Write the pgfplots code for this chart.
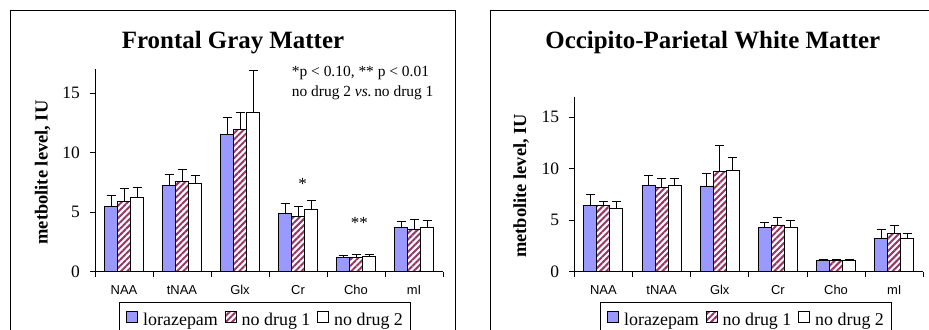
\documentclass[border=0pt]{standalone}
\usepackage{fontspec}
\setmainfont{Liberation Serif}
\setsansfont{Liberation Sans}
\usepackage{pgfplots}
\usepackage{pgfplotstable}
\pgfplotsset{compat=1.18}
\usetikzlibrary{patterns.meta}
\definecolor{loraz}{RGB}{153,153,255}
\definecolor{hatch}{RGB}{153,51,102}

% Frontal Gray Matter
\pgfplotstableread{
x L Le D De N Ne
0 5.52 0.87 5.94 1.04 6.25 0.81
1 7.26 0.93 7.57 1.01 7.46 0.61
2 11.52 1.43 11.94 1.43 13.37 3.56
3 4.91 0.81 4.63 0.84 5.24 0.79
4 1.18 0.17 1.18 0.31 1.29 0.20
5 3.70 0.53 3.59 0.84 3.70 0.62
}\fgm

% Occipito-Parietal White Matter
\pgfplotstableread{
x L Le D De N Ne
0 6.41 1.11 6.41 0.46 6.19 0.68
1 8.42 0.94 8.20 0.84 8.42 0.62
2 8.33 1.19 9.72 2.56 9.82 1.32
3 4.31 0.48 4.54 0.71 4.31 0.65
4 1.07 0.10 1.07 0.10 1.07 0.10
5 3.27 0.81 3.69 0.85 3.27 0.42
}\opw

\pgfplotsset{
  mybars/.style={
    ybar=0pt, bar width=13bp,
    scale only axis,
    xmin=-0.5, xmax=5.5, ymin=0, ymax=17,
    axis lines*=left,
    axis line style={line width=0.8bp, black},
    xtick={0,...,5},
    xticklabels={NAA,tNAA,Glx,Cr,Cho,mI},
    minor xtick={-0.5,0.5,...,5.5},
    ytick={0,5,10,15},
    tick align=outside,
    major tick length=5bp, minor tick length=5bp,
    tick style={black, line width=0.8bp},
    major x tick style={draw=none},
    /pgf/number format/assume math mode=true,
    yticklabel style={font=\fontsize{17.5}{18}\selectfont, inner sep=0pt, xshift=-10bp},
    xticklabel style={font=\sffamily\fontsize{13}{14}\selectfont, inner sep=0pt, anchor=base, yshift=-18bp},
    error bars/y dir=plus, error bars/y explicit,
    error bars/error mark=-,
    error bars/error mark options={rotate=90, mark size=4.5bp, line width=0.8bp, black},
    error bars/error bar style={line width=0.8bp, black},
    legend columns=-1,
    legend style={draw=black, line width=0.8bp, font=\fontsize{18}{20}\selectfont,
      inner xsep=7bp, inner ysep=9bp, anchor=north west,
      nodes={inner sep=0pt},
      /tikz/every odd column/.append style={column sep=5bp},
      /tikz/every even column/.append style={column sep=7bp}},
    clip=false,
  },
  myleg/.style={legend image code/.code={\draw[##1] (0bp,-3bp) rectangle (11bp,8bp);}},
  sL/.style={fill=loraz, draw=black, line width=0.8bp, myleg},
  sD/.style={fill=white, draw=black, line width=0.8bp,
    postaction={pattern={Lines[angle=45,distance=4.4bp,line width=2bp]}, pattern color=hatch}, myleg},
  sN/.style={fill=white, draw=black, line width=0.8bp, myleg},
}

\begin{document}
\begin{tikzpicture}
\useasboundingbox (0,0) rectangle (929bp,330bp);
\clip (0,0) rectangle (929bp,330bp);
\draw[line width=0.9bp] (10bp,-20bp) -- (10bp,319.3bp) -- (455bp,319.3bp) -- (455bp,-20bp);
\draw[line width=0.9bp] (490bp,-20bp) -- (490bp,319.3bp) -- (940bp,319.3bp);

\begin{axis}[mybars, at={(95bp,58.3bp)}, anchor=south west,
  width=348bp, height=202.2bp,
  legend style={at={(0.069,-0.1495)}}]
\addplot[sL] table[x=x, y=L, y error=Le] {\fgm};
\addplot[sD] table[x=x, y=D, y error=De] {\fgm};
\addplot[sN] table[x=x, y=N, y error=Ne] {\fgm};
\legend{lorazepam, no drug 1, no drug 2}
\node[anchor=base, inner sep=0pt, font=\fontsize{17}{18}\selectfont] at (axis cs:3.08,6.9) {*};
\node[anchor=base, inner sep=0pt, font=\fontsize{17}{18}\selectfont] at (axis cs:4.057,3.6) {**};
\end{axis}

\begin{axis}[mybars, at={(574.3bp,58.3bp)}, anchor=south west,
  width=349bp, height=175bp,
  legend style={at={(0.0736,-0.173)}}]
\addplot[sL] table[x=x, y=L, y error=Le] {\opw};
\addplot[sD] table[x=x, y=D, y error=De] {\opw};
\addplot[sN] table[x=x, y=N, y error=Ne] {\opw};
\legend{lorazepam, no drug 1, no drug 2}
\end{axis}

\node[anchor=base, inner sep=0pt, font=\bfseries\fontsize{25}{30}\selectfont] at (233bp,281.7bp) {Frontal Gray Matter};
\node[anchor=base, inner sep=0pt, font=\bfseries\fontsize{25}{30}\selectfont] at (712.8bp,281.7bp) {Occipito-Parietal White Matter};
\node[rotate=90, anchor=base, inner sep=0pt, font=\bfseries\fontsize{18.5}{20}\selectfont] at (47.6bp,157.5bp) {metbolite level, IU};
\node[rotate=90, anchor=base, inner sep=0pt, font=\bfseries\fontsize{18.5}{20}\selectfont] at (526bp,144.2bp) {metbolite level, IU};
\node[anchor=base west, inner sep=0pt, font=\fontsize{15.5}{18}\selectfont] at (291.7bp,253.3bp) {*p < 0.10, ** p < 0.01};
\node[anchor=base west, inner sep=0pt, font=\fontsize{15.5}{18}\selectfont] at (291.7bp,233.3bp) {no drug 2 \textit{vs.}\,no drug 1};
\end{tikzpicture}
\end{document}
